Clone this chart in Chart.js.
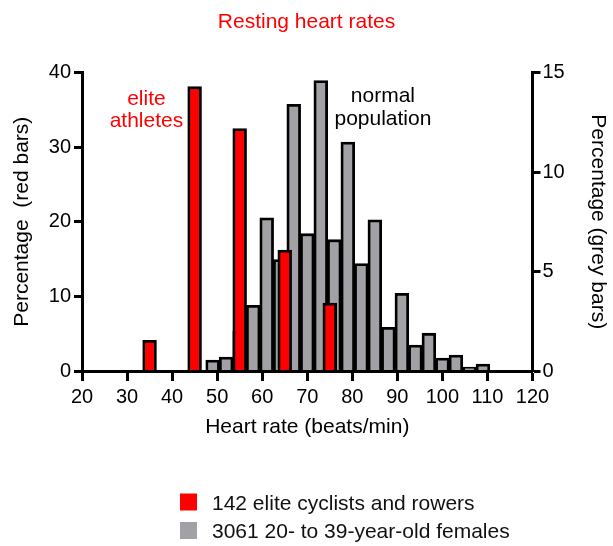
<!DOCTYPE html>
<html><head><meta charset="utf-8">
<script src="https://cdn.jsdelivr.net/npm/chart.js@4.4.0/dist/chart.umd.min.js"></script>
<style>html,body{margin:0;padding:0;background:#fff;overflow:hidden}</style>
</head><body>
<canvas id="c" width="613" height="546" style="width:613px;height:546px;display:block"></canvas>
<script>
// ---- data ----
const chartTitle = 'Resting heart rates';
const xTitle = 'Heart rate (beats/min)';
const yLeftTitle = 'Percentage  (red bars)';
const yRightTitle = 'Percentage (grey bars)';
const eliteLabel = '142 elite cyclists and rowers';
const normalLabel = '3061 20- to 39-year-old females';
const eliteHeartRates = [35, 45, 55, 65, 75];
const elitePercent = [4.1, 38.1, 32.5, 16.2, 9.1];
const normalHeartRates = [49, 52, 55, 58, 61, 64, 67, 70, 73, 76, 79, 82, 85, 88, 91, 94, 97, 100, 103, 106, 109];
const normalPercent = [0.55, 0.7, 2.0, 3.3, 7.7, 5.6, 13.4, 6.9, 14.6, 6.6, 11.5, 5.4, 7.6, 2.2, 3.9, 1.3, 1.9, 0.65, 0.8, 0.2, 0.35];
const xTickValues = [20, 30, 40, 50, 60, 70, 80, 90, 100, 110, 120];
const leftTickValues = [0, 10, 20, 30, 40];
const rightTickValues = [0, 5, 10, 15];
const noteElite = ['elite', 'athletes'];
const noteNormal = ['normal', 'population'];

const FONT = "'Liberation Sans', Arial, Helvetica, sans-serif";
Chart.defaults.font.family = FONT;
Chart.defaults.color = '#000';

const setTicks = arr => s => { s.ticks = arr.map(v => ({ value: v })); };
const axisBase = {
  border: { display: true, color: '#000', width: 3, z: 1 },
  grid: { display: true, drawOnChartArea: false, drawTicks: true, tickLength: 8, tickWidth: 3, tickColor: '#000', color: '#000' },
  ticks: { font: { size: 20 }, color: '#000' },
};

const overlayPlugin = {
  id: 'overlay',
  afterDraw(chart) {
    const ctx = chart.ctx;
    const xs = chart.scales.x, yl = chart.scales.yLeft;
    ctx.save();
    ctx.font = '21px ' + FONT;
    ctx.textBaseline = 'alphabetic';
    ctx.textAlign = 'center';
    // annotations
    ctx.fillStyle = '#ff0000';
    noteElite.forEach((t, i) => ctx.fillText(t, xs.getPixelForValue(34.3), yl.getPixelForValue(35.7) + i * 22));
    ctx.fillStyle = '#000';
    noteNormal.forEach((t, i) => ctx.fillText(t, xs.getPixelForValue(86.8), yl.getPixelForValue(36.0) + i * 23));
    // legend
    ctx.textAlign = 'left';
    const ds = chart.data.datasets;
    const rows = [{ top: 493.5, base: 509.5 }, { top: 522, base: 538 }];
    ds.forEach((d, i) => {
      ctx.fillStyle = d.backgroundColor;
      ctx.fillRect(180, rows[i].top, 17, 17);
      ctx.fillStyle = '#111';
      ctx.fillText(d.label, 212, rows[i].base);
    });
    ctx.restore();
  }
};

new Chart(document.getElementById('c'), {
  type: 'bar',
  data: {
    datasets: [
      {
        label: eliteLabel,
        data: eliteHeartRates.map((x, i) => ({ x, y: elitePercent[i] })),
        yAxisID: 'yLeft',
        backgroundColor: '#ff0000',
        borderColor: '#000',
        borderWidth: 2.8,
        barThickness: 13.8,
        grouped: false,
      },
      {
        label: normalLabel,
        data: normalHeartRates.map((x, i) => ({ x, y: normalPercent[i] })),
        yAxisID: 'yRight',
        backgroundColor: '#a1a1a6',
        borderColor: '#000',
        borderWidth: 2.8,
        barThickness: 13.8,
        grouped: false,
      },
    ],
  },
  options: {
    responsive: false,
    animation: false,
    devicePixelRatio: 1,
    layout: { padding: { top: 0, left: 0, right: 0, bottom: 96 } },
    plugins: {
      legend: { display: false },
      tooltip: { enabled: false },
      title: {
        display: true, text: chartTitle, color: '#ff0000',
        font: { size: 21, weight: 'normal' }, padding: { top: 10, bottom: 37.3 },
      },
    },
    scales: {
      x: {
        ...axisBase,
        type: 'linear', min: 20, max: 120, offset: false,
        grid: { ...axisBase.grid, offset: false, tickLength: 10 },
        ticks: { ...axisBase.ticks, padding: 4, maxRotation: 0, autoSkip: false },
        afterBuildTicks: setTicks(xTickValues),
        title: { display: true, text: xTitle, font: { size: 21 }, color: '#000', padding: { top: 0, bottom: 10 } },
        afterFit: s => { s.height = 79; },
      },
      yLeft: {
        ...axisBase,
        position: 'left', min: 0, max: 40,
        ticks: { ...axisBase.ticks, padding: 3 },
        afterBuildTicks: setTicks(leftTickValues),
        title: { display: true, text: yLeftTitle, font: { size: 21 }, color: '#000', padding: { top: 9.4, bottom: 0 } },
        afterFit: s => { s.width = 82; },
      },
      yRight: {
        ...axisBase,
        position: 'right', min: 0, max: 15,
        ticks: { ...axisBase.ticks, padding: 2 },
        afterBuildTicks: setTicks(rightTickValues),
        title: { display: true, text: yRightTitle, font: { size: 21 }, color: '#000', padding: { top: 2.4, bottom: 0 } },
        afterFit: s => { s.width = 80.5; },
      },
    },
  },
  plugins: [overlayPlugin],
});
</script>
</body></html>
